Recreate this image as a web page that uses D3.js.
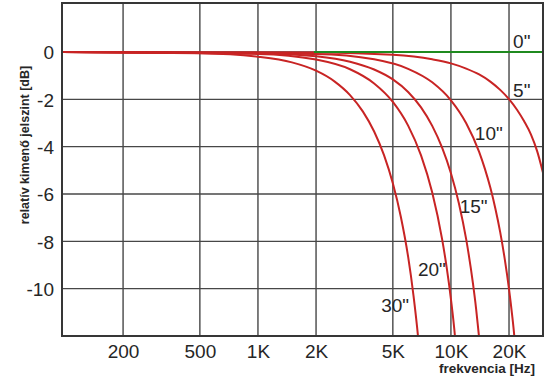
<!DOCTYPE html>
<html>
<head>
<meta charset="utf-8">
<script src="https://cdn.jsdelivr.net/npm/d3@7"></script>
<style>
  html, body { margin: 0; padding: 0; background: #fff; }
  svg { display: block; font-family: "Liberation Sans", Arial, sans-serif; }
</style>
</head>
<body>
<svg id="chart" width="550" height="387"></svg>
<script>
// ---- data ----
const freqTicks = [200, 500, 1000, 2000, 5000, 10000, 20000];
const freqTickLabels = ["200", "500", "1K", "2K", "5K", "10K", "20K"];
const dbTicks = [0, -2, -4, -6, -8, -10];
const dbTickLabels = ["0", "-2", "-4", "-6", "-8", "-10"];

const seriesNames = ['0"', '5"', '10"', '15"', '20"', '30"'];

const freq0 = [1950, 30000];
const db0 = [0, 0];

const freq5 = [97, 2000, 5000, 8000, 10000, 12000, 14000, 16000, 18000, 20000, 22000, 24000, 26000, 28000, 30000];
const db5 = [0, -0.02, -0.12, -0.31, -0.48, -0.70, -0.95, -1.25, -1.60, -1.99, -2.44, -2.94, -3.49, -4.2, -5.1];

const freq10 = [97, 2000, 4000, 6000, 8000, 10000, 12000, 14000, 15000, 16000, 17000, 18000, 19000, 20000, 20700, 21300, 21500];
const db10 = [0, -0.08, -0.31, -0.71, -1.28, -2.04, -3.01, -4.22, -4.94, -5.73, -6.62, -7.61, -8.74, -10.02, -11.03, -12.0, -12.4];

const freq15 = [97, 1000, 2000, 3000, 4000, 5000, 6000, 7000, 8000, 9000, 10000, 11000, 12000, 13000, 13500, 13970, 14100];
const db15 = [0, -0.05, -0.18, -0.41, -0.74, -1.16, -1.69, -2.34, -3.12, -4.04, -5.12, -6.40, -7.92, -9.77, -10.84, -12.0, -12.3];

const freq20 = [97, 1000, 2000, 3000, 4000, 5000, 6000, 7000, 8000, 9000, 9500, 10000, 10490, 10590];
const db20 = [0, -0.08, -0.32, -0.73, -1.33, -2.11, -3.11, -4.37, -5.94, -7.91, -9.09, -10.44, -12.0, -12.4];

const freq30 = [97, 500, 1000, 1500, 2000, 2500, 3000, 3500, 4000, 4500, 5000, 5500, 6000, 6400, 6750, 6820];
const db30 = [0, -0.05, -0.2, -0.44, -0.79, -1.25, -1.82, -2.52, -3.36, -4.36, -5.55, -6.96, -8.65, -10.30, -12.0, -12.4];

// label anchor positions in data units (frequency, dB)
const labelFreq = [21000, 21000, 13300, 11100, 6750, 4350];
const labelDb = [0.17, -1.9, -3.72, -6.8, -9.45, -11.0];

// ---- chart ----
const svg = d3.select("#chart");
const x = d3.scaleLog().domain([96.5, 30000]).range([62, 543]);
const y = d3.scaleLinear().domain([2.07, -12]).range([3, 336]);

const gridColor = "#474747";
const textColor = "#262626";

// grid
const grid = svg.append("g");
grid.selectAll("line.v").data(freqTicks).join("line")
  .attr("x1", d => x(d)).attr("x2", d => x(d))
  .attr("y1", y.range()[0]).attr("y2", y.range()[1])
  .attr("stroke", gridColor).attr("stroke-width", 1.4);
grid.selectAll("line.h").data(dbTicks).join("line")
  .attr("x1", x.range()[0]).attr("x2", x.range()[1])
  .attr("y1", d => y(d)).attr("y2", d => y(d))
  .attr("stroke", gridColor).attr("stroke-width", 1.4);

// clip
svg.append("clipPath").attr("id", "plotclip").append("rect")
  .attr("x", 62).attr("y", 3).attr("width", 481).attr("height", 333);

const line = d3.line().x(d => x(d[0])).y(d => y(d[1])).curve(d3.curveMonotoneX);
const zip = (f, v) => f.map((d, i) => [d, v[i]]);

const redSeries = [zip(freq5, db5), zip(freq10, db10), zip(freq15, db15), zip(freq20, db20), zip(freq30, db30)];
const curves = svg.append("g").attr("clip-path", "url(#plotclip)");
curves.selectAll("path.red").data(redSeries).join("path")
  .attr("d", line).attr("fill", "none")
  .attr("stroke", "#c82424").attr("stroke-width", 2);
curves.append("path").datum(zip(freq0, db0))
  .attr("d", line).attr("fill", "none")
  .attr("stroke", "#1f8a1f").attr("stroke-width", 2.2);

// border
svg.append("rect").attr("x", 62).attr("y", 3).attr("width", 481).attr("height", 333)
  .attr("fill", "none").attr("stroke", "#363636").attr("stroke-width", 2);

// axes
const xAxis = d3.axisBottom(x).tickValues(freqTicks)
  .tickFormat((d, i) => freqTickLabels[i]).tickSize(0).tickPadding(0);
const gx = svg.append("g").attr("transform", "translate(0,358)").call(xAxis);
gx.select(".domain").remove();
gx.selectAll("text").attr("dy", 0).attr("y", 0)
  .attr("font-size", 19).attr("fill", textColor).attr("font-family", "Liberation Sans, Arial, sans-serif");

const yAxis = d3.axisLeft(y).tickValues(dbTicks)
  .tickFormat((d, i) => dbTickLabels[i]).tickSize(0).tickPadding(0);
const gy = svg.append("g").attr("transform", "translate(54,0)").call(yAxis);
gy.select(".domain").remove();
gy.selectAll("text").attr("dy", "0.36em")
  .attr("font-size", 19).attr("fill", textColor).attr("font-family", "Liberation Sans, Arial, sans-serif");

// series labels
svg.append("g").selectAll("text").data(seriesNames).join("text")
  .attr("x", (d, i) => x(labelFreq[i])).attr("y", (d, i) => y(labelDb[i]))
  .attr("font-size", 19).attr("fill", textColor)
  .text(d => d);

// axis titles
svg.append("text").attr("x", 535).attr("y", 373).attr("text-anchor", "end")
  .attr("font-size", 13.5).attr("font-weight", "bold").attr("fill", textColor)
  .text("frekvencia [Hz]");
svg.append("text").attr("transform", "translate(29,145) rotate(-90)")
  .attr("text-anchor", "middle")
  .attr("font-size", 12.5).attr("font-weight", "bold").attr("fill", textColor)
  .text("relatív kimenő jelszint [dB]");
</script>
</body>
</html>
